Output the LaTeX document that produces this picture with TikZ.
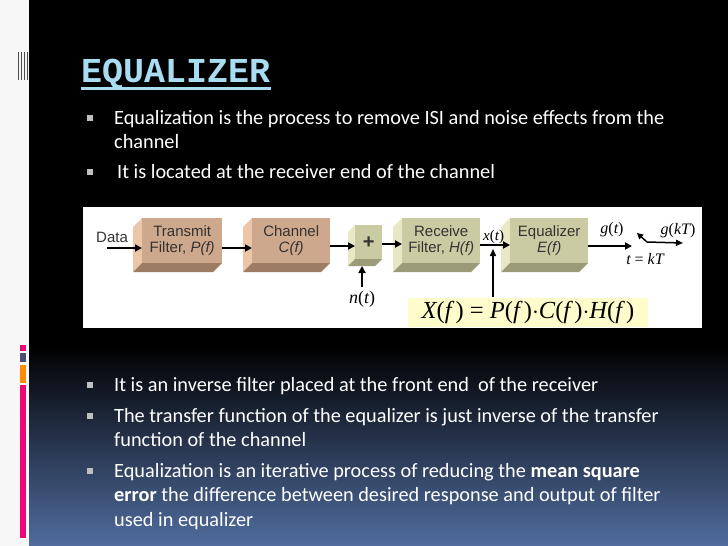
\documentclass[tikz,border=0pt]{standalone}
\usepackage{fontspec}
\setmainfont{Carlito}
\newfontfamily\blockfont{Liberation Sans}
\newfontfamily\titlefont{Liberation Mono}
\newfontfamily\timesfont{Liberation Serif}
\usetikzlibrary{arrows.meta}
\definecolor{tanF}{HTML}{CDA88C}
\definecolor{tanL}{HTML}{EBC6A8}
\definecolor{tanB}{HTML}{9C7D64}
\definecolor{khF}{HTML}{CBCBA3}
\definecolor{khL}{HTML}{E8E8C4}
\definecolor{khB}{HTML}{9B9B7A}
\definecolor{titlec}{HTML}{A8DCF0}
\definecolor{botblue}{HTML}{506C9E}
\newcommand\blockthree[8]{% name, x1,y1,x2,y2,d, colorprefix, text
  \fill[#7L] (#2-#6,#3+#6) -- (#2,#3) -- (#2,#5) -- (#2-#6,#5+#6) -- cycle;
  \fill[#7B] (#2-#6,#5+#6) -- (#2,#5) -- (#4,#5) -- (#4-#6,#5+#6) -- cycle;
  \node[fill=#7F, minimum width=#4pt-#2pt, minimum height=#5pt-#3pt, anchor=north west, inner sep=0pt, align=center, blocktext] (#1) at (#2,#3) {#8};
}
\begin{document}
\begin{tikzpicture}[x=1pt,y=-1pt,
  blocktext/.style={font=\blockfont\fontsize{15}{16.5}\selectfont, text=black!80},
  arr/.style={-{Triangle[length=7pt,width=7pt]}, line width=2pt},
  body/.style={anchor=base west, text=white, font=\fontsize{20.3}{22}\selectfont},
  bul/.style={fill=black!25}]
\useasboundingbox (0,0) rectangle (728,546);
\fill[white!97!black] (0,0) rectangle (728,546);
\fill[black] (29,0) rectangle (728,546);
\shade[top color=black, bottom color=botblue] (29,345) rectangle (728,546);
% left decoration
\foreach \xx in {18,21,24,27} \fill[black!70] (\xx,52) rectangle (\xx+1.3,80);
\fill[magenta!80!red] (20,345) rectangle (26,351);
\fill[black!60!blue!40!gray] (20,353) rectangle (26,362);
\fill[orange!90!yellow] (20,365) rectangle (26,383);
\fill[magenta!80!red] (20,385) rectangle (26,538);
% title
\node[anchor=base west, text=titlec, font=\titlefont\bfseries\fontsize{35}{38}\selectfont, inner sep=0pt] (title) at (81,82) {EQUALIZER};
\fill[titlec] (81,87) rectangle (271,90);
% bullets
\foreach \yy in {124,178,391,422,477} \fill[bul] (87,\yy-9) rectangle (93,\yy-3);
\node[body, inner sep=0pt] (b1) at (114,124) {Equalization is the process to remove ISI and noise effects from the};
\node[body, inner sep=0pt] (b1b) at (114,148) {channel};
\node[body, inner sep=0pt] (b2) at (117,178) {It is located at the receiver end of the channel};
\node[body, inner sep=0pt] (b3) at (114,391) {It is an inverse filter placed at the front end\ \ of the receiver};
\node[body, inner sep=0pt] (b4) at (114,422) {The transfer function of the equalizer is just inverse of the transfer};
\node[body, inner sep=0pt] (b4b) at (114,446) {function of the channel};
\node[body, inner sep=0pt] (b5) at (114,477) {Equalization is an iterative process of reducing the \textbf{mean square}};
\node[body, inner sep=0pt] (b5b) at (114,501) {\textbf{error} the difference between desired response and output of filter};
\node[body, inner sep=0pt] (b5c) at (114,526) {used in equalizer};
% diagram panel
\fill[white] (83,207) rectangle (702,328);
\blockthree{tx}{142}{218}{222}{263}{9}{tan}{Transmit\\Filter, \textit{P(f)}}
\blockthree{ch}{252}{218}{330}{263}{9}{tan}{Channel\\\textit{C(f)}}
\blockthree{sum}{355}{225}{382}{259}{7}{kh}{\fontsize{20}{20}\selectfont\bfseries +}
\blockthree{rx}{402}{218}{480}{263}{9}{kh}{Receive\\Filter, \textit{H(f)}}
\blockthree{eq}{510}{218}{588}{263}{9}{kh}{Equalizer\\\textit{E(f)}}
\node[blocktext, anchor=base west, inner sep=0pt] (data) at (96,242) {Data};
\coordinate (din) at (107,248);
\draw[arr] (din) -- (din -| tx.west) ;
\draw[arr] (tx.east |- 0,248) -- (ch.west |- 0,248);
\draw[arr] (ch.east |- 0,246) -- (sum.west |- 0,246);
\draw[arr] (sum.east |- 0,244) -- (rx.west |- 0,244);
\draw[arr] (rx.east |- 0,245) -- (eq.west |- 0,245);
\node[font=\timesfont\itshape\fontsize{18}{20}\selectfont, inner sep=0pt] (nt) at (362,299) {n\upshape(\itshape t\upshape)};
\coordinate (nbot) at (362,287);
\draw[arr] (nbot) -- (nbot |- 0,266);
\node[font=\timesfont\fontsize{15}{16}\selectfont, inner sep=0pt, anchor=base west] (xt) at (483,240) {\itshape x\upshape(\itshape t\upshape)};
\node[fill=yellow!20, minimum width=240pt, minimum height=29pt, inner sep=0pt, font=\timesfont\fontsize{24.5}{25}\selectfont] (xf) at (528,312) {\itshape X\upshape(\itshape f\,\upshape) = \itshape P\upshape(\itshape f\,\upshape)$\cdot$\itshape C\upshape(\itshape f\,\upshape)$\cdot$\itshape H\upshape(\itshape f\,\upshape)};
\draw[-{Triangle[length=7pt,width=6pt]}, line width=1.5pt] (xf.north -| 493,0) -- (493,249);
\coordinate (sw) at (632,246);
\draw[arr] (eq.east |- 0,246) -- (sw);
\node[font=\timesfont\fontsize{16}{17}\selectfont, inner sep=0pt] (gt) at (612,230) {\itshape g\upshape(\itshape t\upshape)};
\coordinate (swa) at (647,242);
\coordinate (swb) at (637,233);
\coordinate (out) at (683,243);
\draw[-{Triangle[length=6pt,width=6pt]}, line width=1.5pt] (swa) -- (swb);
\draw[-{Triangle[length=7pt,width=6pt]}, line width=1.5pt] (swa) -- (out);
\node[font=\timesfont\fontsize{16}{17}\selectfont, inner sep=0pt] (gkt) at (678,231) {\itshape g\upshape(\itshape kT\upshape)};
\node[font=\timesfont\fontsize{16}{17}\selectfont, inner sep=0pt] (tkt) at (645,259) {\itshape t \upshape= \itshape kT};
\end{tikzpicture}
\end{document}
